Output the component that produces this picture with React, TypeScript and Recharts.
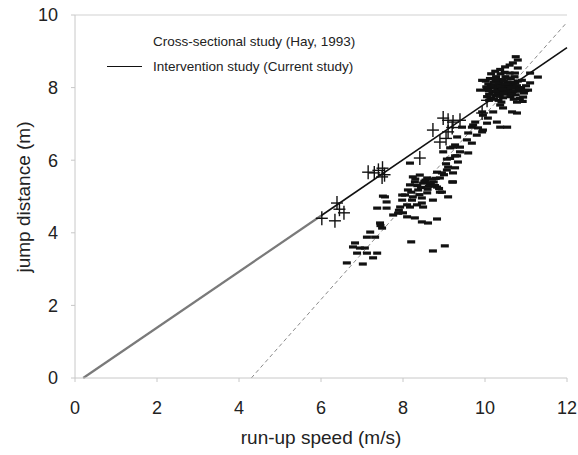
import React from 'react';
import { ScatterChart, Scatter, XAxis, YAxis, ReferenceLine, Legend } from 'recharts';

// run-up speed (m/s) vs jump distance (m)
const xTicks = [0, 2, 4, 6, 8, 10, 12];
const yTicks = [0, 2, 4, 6, 8, 10];

// intervention study (current study), "+" markers
const interventionX = [6.02, 6.34, 6.39, 6.56, 6.45, 7.15, 7.3, 7.49, 7.5, 7.4, 7.55, 8.41, 8.73, 8.98, 9.1, 9.22, 8.9, 9.1, 9.39, 9.05, 9.2, 9.93, 10.05];
const interventionY = [4.4, 4.33, 4.82, 4.55, 4.65, 5.67, 5.65, 5.54, 5.78, 5.72, 5.6, 6.06, 6.83, 7.16, 7.1, 7.05, 6.5, 6.78, 7.1, 6.6, 6.9, 7.3, 7.65];

// cross-sectional study (Hay, 1993), "-" markers
const crossX = [
  10.02, 10.05, 10.08, 10.1, 10.12, 10.15, 10.18, 10.2, 10.22, 10.25, 10.27, 10.28, 10.3, 10.32, 10.35, 10.36, 10.38, 10.4, 10.42, 10.44,
  10.45, 10.47, 10.5, 10.52, 10.53, 10.55, 10.57, 10.6, 10.62, 10.63, 10.65, 10.68, 10.7, 10.72, 10.75, 10.78, 10.8, 10.82, 10.85, 10.88,
  10.9, 10.95, 11.0, 10.1, 10.25, 10.33, 10.48, 10.6, 10.15, 10.05, 10.4, 10.7, 10.92,
  10.12, 10.18, 10.23, 10.3, 10.34, 10.41, 10.46, 10.51, 10.58, 10.64, 10.69, 10.74, 10.2, 10.27, 10.38, 10.43, 10.55, 10.62, 10.08,
  10.14, 10.26, 10.36, 10.5, 10.57, 10.66, 10.83, 10.98, 10.03, 10.22, 10.45,
  10.68, 10.8, 10.49, 10.37, 10.8, 10.73, 11.1, 11.29, 11.1, 11.05, 10.93, 10.78, 10.6, 10.75,
  10.37, 10.44, 10.66, 10.78, 10.2, 10.07, 10.29, 10.54, 9.93, 9.95, 9.76, 9.68, 9.83, 9.59, 9.32, 9.88, 9.93, 10.05, 10.37, 9.95,
  9.71, 9.93, 9.8, 9.44, 9.56, 9.68,
  9.27, 9.15, 9.39, 9.22, 8.98, 9.27, 9.34, 9.07, 9.1, 9.27, 9.22, 8.83, 8.9, 9.2, 8.95, 8.59, 9.32, 9.39, 9.59, 9.07, 8.95, 8.71, 9.22, 8.17,
  8.24, 8.41, 8.29, 8.49, 8.66, 8.83, 8.17, 8.12, 8.37, 8.9, 9.1, 8.24, 8.46, 7.98, 8.05, 8.59, 8.73, 7.93, 8.17, 8.34, 8.49, 7.56, 7.6,
  8.55, 8.75, 8.35, 8.6, 8.3, 8.44, 8.52, 8.68, 8.78, 8.88, 8.2, 8.4, 8.63, 8.8, 9.0, 9.05, 9.15,
  7.51, 7.37, 7.6, 7.98, 8.22, 8.46, 7.76, 7.88, 8.1, 8.29, 8.46, 8.61, 8.83, 7.44, 7.49, 7.45, 7.2, 7.12, 7.32, 6.83, 6.78, 6.95, 7.07,
  6.88, 7.12, 7.37, 7.27, 6.63, 7.02, 8.2, 8.73, 9.02, 8.1, 7.9, 8.0,
];
const crossY = [
  8.18, 7.95, 8.1, 7.82, 8.25, 7.7, 8.02, 7.9, 8.15, 7.78, 8.3, 8.05, 7.95, 8.2, 7.85, 8.1, 8.38, 7.98, 8.22, 7.72,
  8.08, 7.9, 8.3, 8.0, 7.82, 8.15, 7.95, 8.05, 7.75, 8.25, 7.88, 8.12, 7.98, 8.3, 7.8, 8.05, 8.18, 7.9, 7.7, 8.0,
  8.2, 7.85, 8.05, 7.65, 8.45, 7.65, 8.42, 8.4, 8.38, 7.75, 7.6, 7.68, 7.62,
  8.0, 7.88, 8.08, 7.84, 8.14, 7.92, 8.18, 7.86, 8.1, 8.0, 7.9, 8.12, 8.02, 7.9, 8.03, 7.96, 7.88, 8.15, 7.92,
  8.05, 8.22, 7.76, 8.1, 8.26, 7.82, 7.96, 7.92, 8.02, 7.68, 7.84,
  8.68, 8.76, 8.57, 8.5, 8.54, 8.4, 8.4, 8.29, 8.13, 7.93, 7.74, 7.6, 8.62, 8.85,
  7.52, 7.44, 7.33, 7.3, 7.33, 7.16, 7.05, 6.91, 7.33, 7.24, 7.05, 6.91, 6.89, 6.75, 6.64, 7.93, 8.2, 7.02, 6.91, 6.83,
  6.97, 6.78, 6.69, 6.91, 6.56, 6.47,
  6.42, 6.34, 6.36, 6.36, 6.23, 6.12, 5.95, 6.03, 5.81, 5.79, 5.65, 5.67, 5.51, 5.4, 5.12, 5.51, 6.12, 6.23, 6.2, 5.73, 5.65, 5.48, 5.4, 5.92,
  5.54, 5.59, 5.4, 5.37, 5.32, 5.26, 5.32, 5.18, 5.18, 5.12, 4.99, 4.99, 4.96, 4.9, 5.04, 5.1, 4.9, 4.71, 4.71, 4.77, 4.71, 4.99, 4.85,
  5.45, 5.4, 5.3, 5.2, 5.48, 5.25, 5.42, 5.38, 5.3, 5.22, 5.12, 5.05, 5.28, 5.5, 5.6, 5.9, 6.05,
  5.01, 4.68, 4.68, 5.04, 4.9, 4.82, 4.49, 4.54, 4.44, 4.41, 4.3, 4.27, 4.38, 4.27, 4.13, 4.2, 4.02, 3.88, 3.88, 3.72, 3.61, 3.58, 3.58,
  3.44, 3.44, 3.44, 3.31, 3.17, 3.14, 3.75, 3.5, 3.64, 4.77, 4.62, 4.55,
];

// regression lines (end points in data units)
const currentFitGrey = [{ x: 0.2, y: 0 }, { x: 6.0, y: 4.47 }];
const currentFitBlack = [{ x: 6.0, y: 4.47 }, { x: 12, y: 9.1 }];
const hayFit = [{ x: 4.3, y: 0 }, { x: 12, y: 9.8 }];

const interventionData = interventionX.map((x, i) => ({ x, y: interventionY[i] }));
const crossData = crossX.map((x, i) => ({ x, y: crossY[i] }));

const FONT = '"Liberation Sans", Arial, sans-serif';

const PlusShape = (props: any) => {
  const { cx, cy } = props;
  return (
    <g stroke="#111" strokeWidth={1.4}>
      <line x1={cx - 6} y1={cy} x2={cx + 6} y2={cy} />
      <line x1={cx} y1={cy - 7} x2={cx} y2={cy + 7} />
    </g>
  );
};

const DashShape = (props: any) => {
  const { cx, cy } = props;
  return <rect x={cx - 4} y={cy - 1.6} width={8} height={3.2} fill="#111" />;
};

const renderLegend = () => (
  <div style={{ fontFamily: FONT, fontSize: 13.5, color: '#222', lineHeight: '25px' }}>
    <div style={{ paddingLeft: 46 }}>Cross-sectional study (Hay, 1993)</div>
    <div style={{ display: 'flex', alignItems: 'center' }}>
      <div style={{ width: 35, height: 0, borderTop: '1.3px solid #111', marginRight: 11 }} />
      <span>Intervention study (Current study)</span>
    </div>
  </div>
);

const XLabel = (props: any) => {
  const { viewBox } = props;
  return (
    <text x={viewBox.x + viewBox.width / 2} y={444} textAnchor="middle" fontFamily={FONT} fontSize={19} fill="#222">
      run-up speed (m/s)
    </text>
  );
};

const YLabel = () => (
  <text
    x={0}
    y={0}
    transform="translate(23, 197) rotate(-90)"
    textAnchor="middle"
    dominantBaseline="central"
    fontFamily={FONT}
    fontSize={19}
    fill="#222"
  >
    jump distance (m)
  </text>
);

const App: React.FC = () => {
  return (
    <div style={{ position: 'absolute', left: 0, top: 0, width: 578, height: 455, background: '#fff' }}>
      <ScatterChart width={578} height={455} margin={{ top: 15, right: 11, bottom: 7, left: 0 }}>
        <XAxis
          type="number"
          dataKey="x"
          domain={[0, 12]}
          ticks={xTicks}
          interval={0}
          height={70}
          allowDataOverflow
          stroke="#c8c8c8"
          tickSize={4}
          tickMargin={19}
          tick={{ fill: '#222', fontSize: 18, fontFamily: FONT }}
          label={<XLabel />}
        />
        <YAxis
          type="number"
          dataKey="y"
          domain={[0, 10]}
          ticks={yTicks}
          interval={0}
          width={75}
          allowDataOverflow
          stroke="#c8c8c8"
          tickSize={4}
          tickMargin={13}
          tick={{ fill: '#222', fontSize: 18, fontFamily: FONT }}
          label={<YLabel />}
        />
        <ReferenceLine y={10} stroke="#e0e0e0" strokeWidth={1.5} />
        <ReferenceLine segment={hayFit} stroke="#8a8a8a" strokeWidth={1} strokeDasharray="4 3" />
        <ReferenceLine segment={currentFitGrey} stroke="#7a7a7a" strokeWidth={2.2} />
        <ReferenceLine segment={currentFitBlack} stroke="#111" strokeWidth={1.6} />
        <Scatter name="cross" data={crossData} shape={<DashShape />} isAnimationActive={false} legendType="none" />
        <Scatter name="intervention" data={interventionData} shape={<PlusShape />} isAnimationActive={false} legendType="none" />
        <Legend
          layout="horizontal"
          verticalAlign="middle"
          content={renderLegend}
          wrapperStyle={{ top: 29, left: 107, width: 300 }}
        />
      </ScatterChart>
    </div>
  );
};

export default App;
